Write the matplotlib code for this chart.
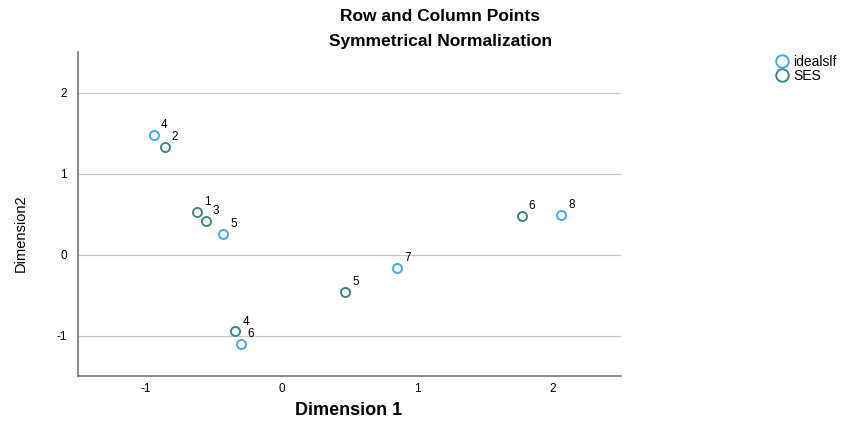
import matplotlib
matplotlib.use("Agg")
import matplotlib.pyplot as plt
from matplotlib.lines import Line2D

plt.rcParams['font.family'] = ['Liberation Sans', 'DejaVu Sans']
plt.rcParams['axes.unicode_minus'] = False

# row points (idealslf)
ideal_labels = ["4", "5", "6", "7", "8"]
ideal_x = [-0.94, -0.43, -0.30, 0.85, 2.06]
ideal_y = [1.47, 0.25, -1.10, -0.17, 0.49]

# column points (SES)
ses_labels = ["2", "1", "3", "4", "5", "6"]
ses_x = [-0.86, -0.62, -0.56, -0.34, 0.47, 1.77]
ses_y = [1.33, 0.52, 0.41, -0.95, -0.46, 0.47]

blue = "#45aaf0"
teal = "#3d8886"

fig = plt.figure(figsize=(8.58, 4.25), dpi=100)
ax = fig.add_axes([0.0909, 0.1153, 0.6329, 0.7623])

ax.plot(ideal_x, ideal_y, 'o', ms=6.5, mfc='none', mec=blue, mew=1.4, zorder=3)
ax.plot(ses_x, ses_y, 'o', ms=6.5, mfc='none', mec=teal, mew=1.4, zorder=3)

for lab, x, y in zip(ideal_labels, ideal_x, ideal_y):
    ax.annotate(lab, (x, y), xytext=(5, 5), textcoords='offset points', fontsize=8.5)
for lab, x, y in zip(ses_labels, ses_x, ses_y):
    ax.annotate(lab, (x, y), xytext=(5, 5), textcoords='offset points', fontsize=8.5)

ax.set_xlim(-1.5, 2.5)
ax.set_ylim(-1.5, 2.5)
ax.set_xticks([-1, 0, 1, 2])
ax.set_yticks([-1, 0, 1, 2])
ax.tick_params(length=0, labelsize=8.5)
ax.tick_params(axis='x', pad=5)
ax.tick_params(axis='y', pad=8)
ax.grid(axis='y', color='#c8c8c8', lw=0.9)
ax.set_axisbelow(True)
for s in ['top', 'right']:
    ax.spines[s].set_visible(False)
for s in ['left', 'bottom']:
    ax.spines[s].set_color('#777777')
    ax.spines[s].set_linewidth(1.2)

fig.text(0.406, 0.033, "Dimension 1", fontsize=13, fontweight='bold',
         ha='center', va='center')
fig.text(0.024, 0.452, "Dimension2", rotation=90, fontsize=10.5,
         ha='center', va='center')

fig.text(0.513, 0.962, "Row and Column Points", ha='center', va='center',
         fontsize=12.5, fontweight='bold')
fig.text(0.513, 0.903, "Symmetrical Normalization", ha='center', va='center',
         fontsize=12.5, fontweight='bold')

handles = [Line2D([], [], ls='none', marker='o', ms=9, mfc='none', mec=blue, mew=1.4),
           Line2D([], [], ls='none', marker='o', ms=9, mfc='none', mec=teal, mew=1.4)]
fig.legend(handles, ["idealslf", "SES"], loc='upper left', bbox_to_anchor=(0.895, 0.888),
           frameon=False, fontsize=10, handletextpad=0.3, labelspacing=0.0,
           handlelength=1.0, borderpad=0)

fig.savefig("out.png", dpi=100)
